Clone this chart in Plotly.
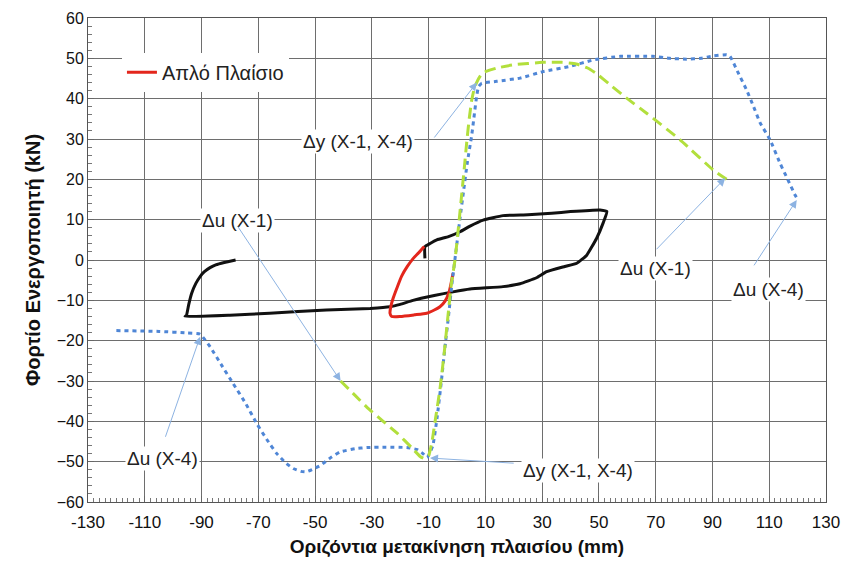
import plotly.graph_objects as go

# ---- data ----
black_x = [-78, -82, -85, -87, -89, -90.5, -92, -93.5, -94.5, -95.3, -95.8, -80, -66, -46, -30.6, -23.6, -20, -15.5, -8, -1.4, 4.6, 16.2, 22.2, 28, 31.6, 38, 42.2, 45.7, 49.2, 51.5, 52.8, 50.4, 40, 33.4, 25, 16.2, 9.2, 4.6, 1.1, -3, -7.1, -9.5, -11.3, -11.3]
black_y = [0, -0.6, -1.2, -1.9, -2.9, -4.1, -5.8, -8.3, -11, -13.7, -14, -13.7, -13.2, -12.4, -12, -11.6, -11, -10, -8.8, -7.9, -7.2, -6.6, -5.9, -4.4, -2.9, -1.6, -0.8, 1.2, 5.4, 9.2, 12, 12.4, 12, 11.6, 11.2, 11, 9.9, 8.4, 7, 5.8, 5, 4.1, 3.3, 0.4]

red_x = [-1.4, -2, -2.8, -4.2, -6, -8, -10.7, -15, -20, -23, -23.6, -23.3, -22.5, -21.2, -19.5, -17.5, -15.4, -13.5, -12, -11.5]
red_y = [-3.3, -5.5, -8, -10.2, -11.6, -12.4, -13.2, -13.6, -14, -14, -13.2, -11.5, -9.5, -7, -4, -1.6, 0.4, 1.8, 3, 3.3]

blue_x = [-120, -105, -95, -90.5, -87, -83, -78.9, -74.5, -70.6, -67, -63.5, -60.5, -57.7, -55, -53, -50.5, -48, -44.5, -41.2, -36, -31.8, -25, -17.7, -14, -12, -10.5, -8.5, -7, -5.5, -4.3, -3, -1.8, -0.4, 1, 2.3, 3.6, 5.2, 6.9, 7.6, 8.7, 14, 22.2, 30.3, 39.8, 48, 57.5, 69, 75, 80.9, 86, 90.2, 95, 96.2, 99, 102, 104.5, 106.8, 110.3, 113.8, 116.5, 119.1, 120]
blue_y = [-17.5, -17.7, -18.1, -18.4, -21.5, -26, -30.6, -35.5, -40.5, -44.5, -48, -50.2, -51.7, -52.4, -52.5, -51.8, -50.9, -49, -47.6, -46.8, -46.5, -46.4, -46.5, -47, -48, -49, -46, -39, -30, -22, -14, -6, 2, 10, 17, 24, 31, 40.5, 43, 43.8, 44.3, 45.1, 46.7, 48, 49.6, 50.5, 50.5, 50, 49.8, 50, 50.6, 50.9, 50.5, 46.5, 42.2, 38, 34, 29.8, 24, 20, 16.1, 15]

green_x = [-41, -36, -31, -26, -21, -16, -13, -11.5, -10, -8.8, -7.5, -6, -4.5, -3.2, -2, -0.7, 0.5, 1.7, 2.6, 3.4, 4.3, 5.2, 6.2, 7.4, 9, 14, 20, 30, 37, 42, 46, 49, 54, 60, 66.8, 78.6, 90.3, 95]
green_y = [-30, -33.5, -37, -40, -43, -46.5, -48.7, -49.2, -48.5, -45, -39, -32, -23, -14, -6, 0, 8, 16.6, 23, 29, 35, 39.7, 42.8, 44.7, 46.4, 47.6, 48.4, 49, 49, 48.6, 47.6, 46.3, 43.4, 40, 36.4, 29.8, 22.3, 20]

# annotation labels: text, centre x, centre y
label_text = ["Δy (X-1, X-4)", "Δu (X-1)", "Δu (X-1)", "Δu (X-4)", "Δu (X-4)", "Δy (X-1, X-4)"]
label_x = [-34.9, -77.5, 70.1, 109.6, -103.9, 42.7]
label_y = [29.5, 9.9, -2.0, -7.2, -49.1, -52.1]

# arrows: tail x, tail y, tip x, tip y
arrow_tail_x = [-8.4, -77.6, 69.8, 104.3, -102.9, 20.5]
arrow_tail_y = [30.0, 8.7, 2.3, -1.7, -44.2, -50.4]
arrow_tip_x = [7.0, -41.0, 94.5, 119.7, -90.5, -9.5]
arrow_tip_y = [44.0, -30.0, 20.3, 14.9, -19.0, -49.1]

x_ticks = list(range(-130, 131, 20))
y_ticks = list(range(-60, 61, 10))

fig = go.Figure()
fig.add_trace(go.Scatter(x=black_x, y=black_y, mode="lines", showlegend=False,
                         line=dict(color="#111111", width=3, shape="spline", smoothing=0.4)))
fig.add_trace(go.Scatter(x=red_x, y=red_y, mode="lines", name="Απλό Πλαίσιο",
                         line=dict(color="#e3261c", width=3, shape="spline", smoothing=0.5)))
fig.add_trace(go.Scatter(x=blue_x, y=blue_y, mode="lines", showlegend=False,
                         line=dict(color="#4f86d6", width=3, dash="4px,4px", shape="spline", smoothing=0.4)))
fig.add_trace(go.Scatter(x=green_x, y=green_y, mode="lines", showlegend=False,
                         line=dict(color="#b2df3c", width=3, dash="11px,6px", shape="spline", smoothing=0.4)))

annotations = []
for t, x, y in zip(label_text, label_x, label_y):
    annotations.append(dict(x=x, y=y, xref="x", yref="y", text=t, showarrow=False,
                            bgcolor="white", font=dict(size=19, color="#222222",
                                                       family="Liberation Sans, Arial, sans-serif")))
for tx, ty, hx, hy in zip(arrow_tail_x, arrow_tail_y, arrow_tip_x, arrow_tip_y):
    annotations.append(dict(x=hx, y=hy, ax=tx, ay=ty, xref="x", yref="y", axref="x", ayref="y",
                            text="", showarrow=True, arrowhead=2, arrowsize=1.6, arrowwidth=1,
                            arrowcolor="#8db3e2", standoff=0, startstandoff=0))

fig.update_layout(
    width=841, height=564,
    margin=dict(l=88, r=15, t=18, b=62),
    paper_bgcolor="white", plot_bgcolor="white",
    font=dict(family="Liberation Sans, Arial, sans-serif", color="#111111"),
    annotations=annotations,
    legend=dict(x=0.046, y=0.888, xanchor="left", yanchor="middle", bgcolor="white",
                font=dict(size=20, color="#222222")),
    xaxis=dict(range=[-130, 130], tickmode="array", tickvals=x_ticks,
               ticktext=[str(v) for v in x_ticks], automargin=False,
               showgrid=True, gridcolor="#6e6e6e", gridwidth=1, zeroline=False,
               showline=True, linecolor="#555555", mirror=True,
               ticks="inside", ticklen=6, tickcolor="#666666",
               minor=dict(ticks="inside", dtick=2, tick0=-130, ticklen=4, tickcolor="#777777", showgrid=False),
               ticklabelstandoff=5,
               tickfont=dict(size=17, family="Liberation Sans Narrow, Arial Narrow, Liberation Sans, sans-serif"),
               title=dict(text="<b>Οριζόντια μετακίνηση πλαισίου (mm)</b>", standoff=8,
                          font=dict(size=19, family="Liberation Sans Narrow, Arial Narrow, Liberation Sans, sans-serif"))),
    yaxis=dict(range=[-60, 60], tickmode="array", tickvals=y_ticks, automargin=False,
               showgrid=True, gridcolor="#6e6e6e", gridwidth=1, zeroline=False,
               showline=True, linecolor="#555555", mirror=True,
               ticks="inside", ticklen=6, tickcolor="#666666",
               minor=dict(ticks="inside", dtick=2, ticklen=4, tickcolor="#777777", showgrid=False),
               tickfont=dict(size=16),
               title=dict(text="<b>Φορτίο Ενεργοποιητή (kN)</b>", standoff=10, font=dict(size=20))),
)

fig.write_html("out.html")
